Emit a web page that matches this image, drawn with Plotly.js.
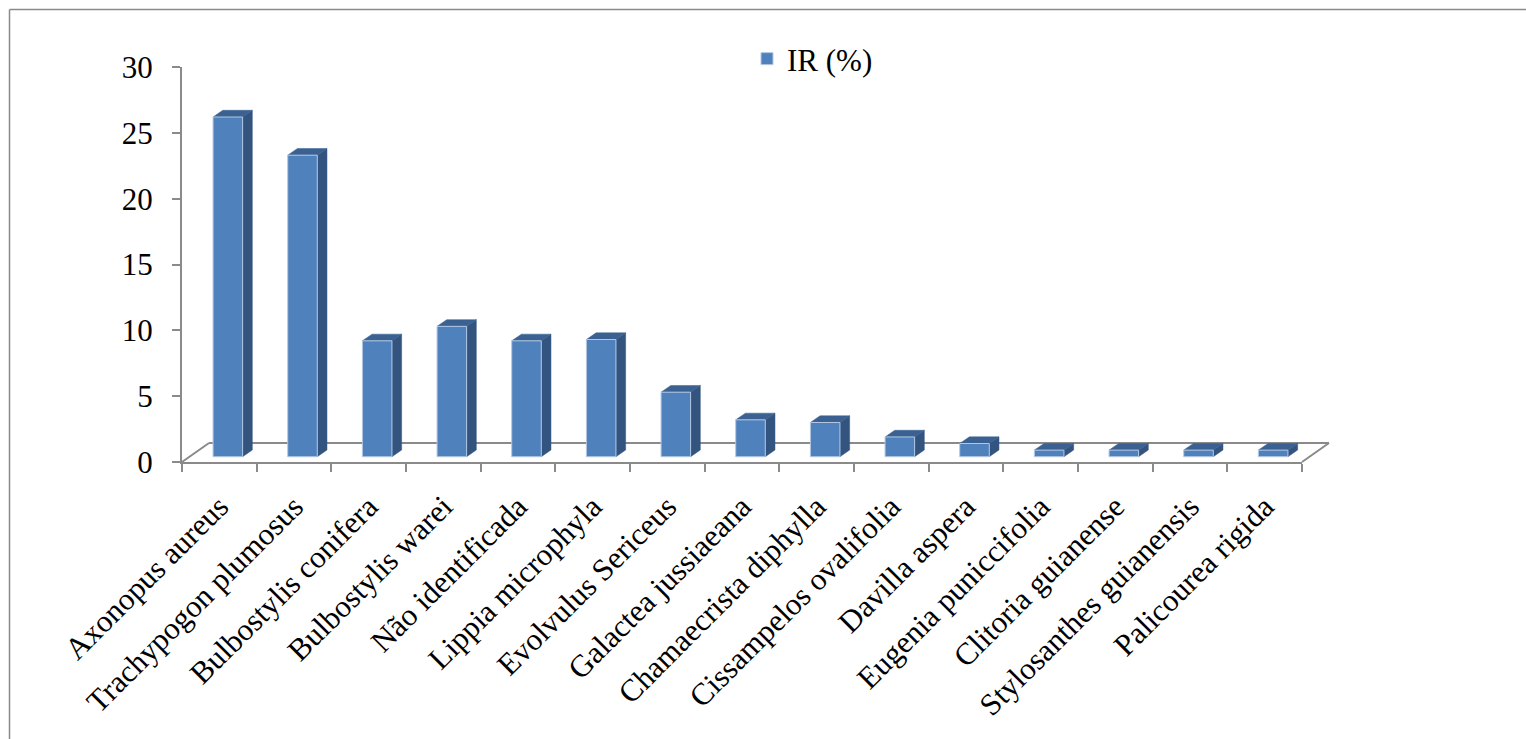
<!DOCTYPE html>
<html>
<head>
<meta charset="utf-8">
<script src="https://cdn.plot.ly/plotly-3.0.1.min.js"></script>
<style>
  html, body { margin: 0; padding: 0; background: #ffffff; }
  #chart { width: 1526px; height: 739px; }
</style>
</head>
<body>
<div id="chart"></div>
<script>
// Species and their relative importance values
const species = [
  "Axonopus aureus",
  "Trachypogon plumosus",
  "Bulbostylis conifera",
  "Bulbostylis warei",
  "Não identificada",
  "Lippia microphyla",
  "Evolvulus Sericeus",
  "Galactea jussiaeana",
  "Chamaecrista diphylla",
  "Cissampelos ovalifolia",
  "Davilla aspera",
  "Eugenia puniccifolia",
  "Clitoria guianense",
  "Stylosanthes guianensis",
  "Palicourea rigida"
];
const irValues = [25.8, 22.9, 8.8, 9.9, 8.8, 8.9, 4.9, 2.8, 2.6, 1.5, 1.0, 0.5, 0.5, 0.5, 0.5];
const seriesName = "IR (%)";
const yTicks = [0, 5, 10, 15, 20, 25, 30];

// Page geometry (pixels)
const W = 1526, H = 739;
const M = { l: 182, r: 224, t: 67, b: 277 };
const plotW = W - M.l - M.r, plotH = H - M.t - M.b;
const nCat = species.length;
const pxPerCat = plotW / nCat;
const yMax = 30;
const pxPerUnit = plotH / yMax;

// 3-D look: floor depth, column position inside the floor, column depth
const floorDepthPx = { x: 27, y: 19 };
const columnShiftPx = { x: 8.5, y: 5.3 };
const columnDepthPx = { x: 9.7, y: 6.7 };
const barWidth = 0.396;

const fdx = floorDepthPx.x / pxPerCat, fdy = floorDepthPx.y / pxPerUnit;
const sx = columnShiftPx.x / pxPerCat, sy = columnShiftPx.y / pxPerUnit;
const cdx = columnDepthPx.x / pxPerCat, cdy = columnDepthPx.y / pxPerUnit;

const cats = species.map((_, i) => i);

// Side and top faces of each column (on the visible axes, so they include
// the column's position inside the floor)
const sideX = [], sideY = [], topX = [], topY = [];
irValues.forEach((v, i) => {
  const r = i + sx + barWidth / 2, l = i + sx - barWidth / 2;
  const b = sy, t = sy + v;
  sideX.push(r, r + cdx, r + cdx, r, r, null);
  sideY.push(b, b + cdy, t + cdy, t, b, null);
  topX.push(l, r, r + cdx, l + cdx, l, null);
  topY.push(t, t, t + cdy, t + cdy, t, null);
});

const frontColor = "#4F81BD", sideColor = "#32547F", topColor = "#3B6192";

const traces = [
  {
    type: "scatter", x: sideX, y: sideY, xaxis: "x", yaxis: "y",
    mode: "lines", fill: "toself", fillcolor: sideColor,
    line: { color: sideColor, width: 0.5 }, hoverinfo: "skip", showlegend: false
  },
  {
    type: "scatter", x: topX, y: topY, xaxis: "x", yaxis: "y",
    mode: "lines", fill: "toself", fillcolor: topColor,
    line: { color: topColor, width: 0.5 }, hoverinfo: "skip", showlegend: false
  },
  // front faces: the columns themselves, on axes offset to the column plane
  {
    type: "bar", name: seriesName, x: cats, y: irValues, xaxis: "x2", yaxis: "y2",
    width: barWidth,
    marker: { color: frontColor, line: { color: "#B3C8E3", width: 1 } }
  }
];

// Helpers: axis values / pixels to paper fractions
const px2paperX = px => (px - M.l) / plotW;
const py2paperY = py => (H - M.b - py) / plotH;
const cat2paper = c => (c + 0.5) / nCat;
const val2paper = v => v / yMax;

const grey = "#8A8A8A";
const floorLine = { color: grey, width: 2 };
const shapes = [
  // floor: back edge and the two depth edges
  { type: "line", xref: "paper", yref: "paper", layer: "below",
    x0: cat2paper(-0.5 + fdx), y0: val2paper(fdy), x1: cat2paper(nCat - 0.5 + fdx), y1: val2paper(fdy), line: floorLine },
  { type: "line", xref: "paper", yref: "paper", layer: "below",
    x0: cat2paper(-0.5), y0: 0, x1: cat2paper(-0.5 + fdx), y1: val2paper(fdy), line: floorLine },
  { type: "line", xref: "paper", yref: "paper", layer: "below",
    x0: cat2paper(nCat - 0.5), y0: 0, x1: cat2paper(nCat - 0.5 + fdx), y1: val2paper(fdy), line: floorLine },
  // chart area frame
  { type: "line", xref: "paper", yref: "paper",
    x0: px2paperX(9.5), y0: py2paperY(9.5), x1: px2paperX(W + 5), y1: py2paperY(9.5),
    line: { color: grey, width: 1.5 } },
  { type: "line", xref: "paper", yref: "paper",
    x0: px2paperX(9.5), y0: py2paperY(9.5), x1: px2paperX(9.5), y1: py2paperY(H + 5),
    line: { color: grey, width: 1.5 } }
];

const serif = "Liberation Serif";
const fontSize = 31;
const boundaries = [];
for (let i = 0; i <= nCat; i++) boundaries.push(i - 0.5);

const layout = {
  width: W, height: H,
  margin: M,
  paper_bgcolor: "#ffffff", plot_bgcolor: "rgba(0,0,0,0)",
  font: { family: serif, size: fontSize, color: "#000000" },
  showlegend: true,
  legend: {
    x: px2paperX(747), y: py2paperY(32), xanchor: "left", yanchor: "top",
    font: { family: serif, size: fontSize, color: "#000000" },
    bgcolor: "rgba(0,0,0,0)"
  },
  xaxis: {
    range: [-0.5, nCat - 0.5], automargin: false,
    tickmode: "array", tickvals: cats, ticktext: species,
    ticks: "", tickangle: -45, ticklabelstandoff: 12,
    tickfont: { family: serif, size: fontSize, color: "#000000" },
    showline: true, linecolor: grey, linewidth: 2,
    showgrid: false, zeroline: false, fixedrange: true,
    minor: { tickmode: "array", tickvals: boundaries, ticks: "outside", ticklen: 8, tickwidth: 2, tickcolor: grey, showgrid: false }
  },
  yaxis: {
    range: [0, yMax], automargin: false,
    tickmode: "array", tickvals: yTicks,
    ticks: "outside", ticklen: 8, tickwidth: 2, tickcolor: grey,
    ticklabelstandoff: 13,
    tickfont: { family: serif, size: fontSize, color: "#000000" },
    showline: true, linecolor: grey, linewidth: 2,
    showgrid: false, zeroline: false, fixedrange: true
  },
  xaxis2: {
    overlaying: "x", range: [-0.5 - sx, nCat - 0.5 - sx],
    visible: false, fixedrange: true
  },
  yaxis2: {
    overlaying: "y", range: [-sy, yMax - sy],
    visible: false, fixedrange: true
  },
  shapes: shapes
};

Plotly.newPlot("chart", traces, layout, { displayModeBar: false, staticPlot: true });
</script>
</body>
</html>
